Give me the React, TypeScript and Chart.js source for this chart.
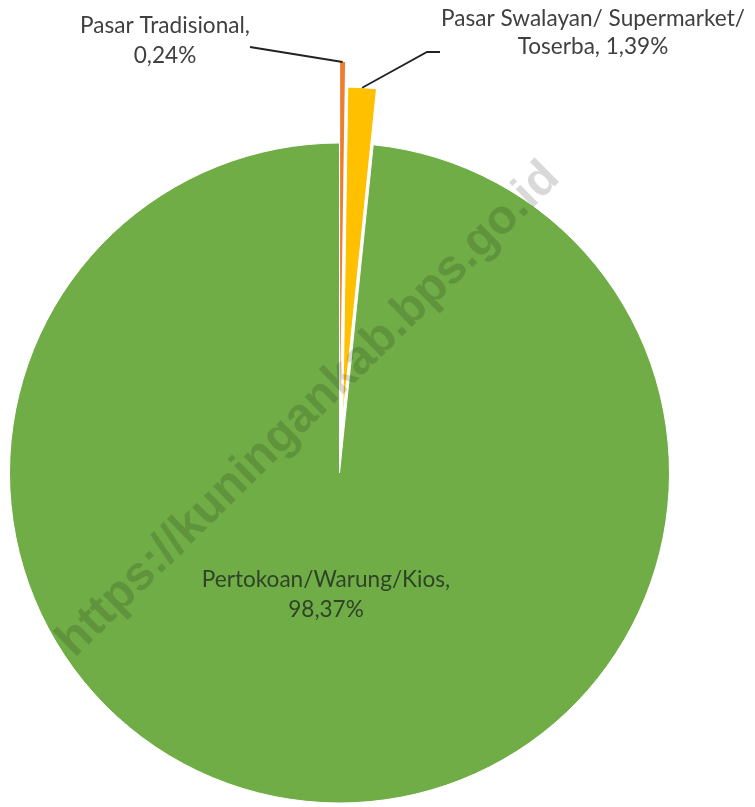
import React, { useEffect, useRef } from "react";
import { Chart, registerables } from "chart.js";

Chart.register(...registerables);

// ---- data ----
const categories = [
  "Pasar Tradisional",
  "Pasar Swalayan/ Supermarket/ Toserba",
  "Pertokoan/Warung/Kios",
];
const shares = [0.24, 1.39, 98.37];
const labelLines = [
  ["Pasar Tradisional,", "0,24%"],
  ["Pasar Swalayan/ Supermarket/", "Toserba, 1,39%"],
  ["Pertokoan/Warung/Kios,", "98,37%"],
];
const watermarkText = "https://kuningankab.bps.go.id";

// ---- style ----
const sliceColors = ["#ED7D31", "#FFC000", "#70AD47"];
const explodePx = [81, 56, 0];
const labelAnchors = [
  [165, 33],
  [593, 26],
  [326, 587],
];
const labelGaps = [29.5, 28, 30];
const labelColors = ["#404040", "#404040", "#2f4426"];
const FONT_FAMILY = "Lato, 'Open Sans', sans-serif";

const explodePlugin = {
  id: "explodeSlices",
  afterDatasetsUpdate(chart: any) {
    const meta = chart.getDatasetMeta(0);
    meta.data.forEach((arc: any, i: number) => {
      const d = explodePx[i];
      if (!d) return;
      const mid = (arc.startAngle + arc.endAngle) / 2;
      arc.x += Math.cos(mid) * d;
      arc.y += Math.sin(mid) * d;
    });
  },
};

const watermarkPlugin = {
  id: "watermark",
  afterDatasetsDraw(chart: any) {
    const ctx = chart.ctx as CanvasRenderingContext2D;
    ctx.save();
    ctx.translate(318, 419);
    ctx.rotate((-44.5 * Math.PI) / 180);
    ctx.font = "bold 48px 'Liberation Sans', Arial, sans-serif";
    ctx.fillStyle = "rgba(0,0,0,0.15)";
    ctx.textAlign = "center";
    ctx.textBaseline = "alphabetic";
    ctx.fillText(watermarkText, 0, 0);
    ctx.restore();
  },
};

const labelPlugin = {
  id: "sliceLabels",
  afterDraw(chart: any) {
    const ctx = chart.ctx as CanvasRenderingContext2D;
    const meta = chart.getDatasetMeta(0);
    // fit font size to reference width of first label line
    ctx.save();
    ctx.font = `100px ${FONT_FAMILY}`;
    const w = ctx.measureText(labelLines[0][0]).width;
    const size = (100 * 170) / w;
    ctx.restore();

    const outerPoint = (i: number) => {
      const arc = meta.data[i];
      const mid = (arc.startAngle + arc.endAngle) / 2;
      return [arc.x + Math.cos(mid) * arc.outerRadius, arc.y + Math.sin(mid) * arc.outerRadius];
    };

    ctx.save();
    ctx.strokeStyle = "#222222";
    ctx.lineWidth = 1.8;
    // leader for slice 0
    const p0 = outerPoint(0);
    ctx.beginPath();
    ctx.moveTo(250, 47);
    ctx.lineTo(p0[0], p0[1]);
    ctx.stroke();
    // leader for slice 1
    const p1 = outerPoint(1);
    ctx.beginPath();
    ctx.moveTo(440, 52);
    ctx.lineTo(427, 52);
    ctx.lineTo(p1[0], p1[1]);
    ctx.stroke();
    ctx.restore();

    ctx.save();
    ctx.font = `${size}px ${FONT_FAMILY}`;
    ctx.textAlign = "center";
    ctx.textBaseline = "alphabetic";
    labelLines.forEach((lines, i) => {
      ctx.fillStyle = labelColors[i];
      const [x, y] = labelAnchors[i];
      lines.forEach((t, j) => ctx.fillText(t, x, y + j * labelGaps[i]));
    });
    ctx.restore();
  },
};

export default function App() {
  const ref = useRef<HTMLCanvasElement>(null);
  useEffect(() => {
    document.body.style.margin = "0";
    const chart = new Chart(ref.current as HTMLCanvasElement, {
      type: "pie",
      data: {
        labels: categories,
        datasets: [
          {
            data: shares,
            backgroundColor: sliceColors,
            borderColor: "#ffffff",
            borderWidth: [0, 1, 1],
            clip: false,
          } as any,
        ],
      },
      options: {
        animation: false,
        responsive: false,
        radius: 330,
        layout: { padding: { left: 0, right: 76, top: 139, bottom: 0 } },
        plugins: {
          legend: { display: false },
          tooltip: { enabled: false },
        },
        events: [],
      } as any,
      plugins: [explodePlugin, watermarkPlugin, labelPlugin],
    });
    return () => chart.destroy();
  }, []);
  return (
    <div style={{ width: 755, height: 807 }}>
      <canvas ref={ref} width={755} height={807} style={{ display: "block", width: 755, height: 807 }} />
    </div>
  );
}
